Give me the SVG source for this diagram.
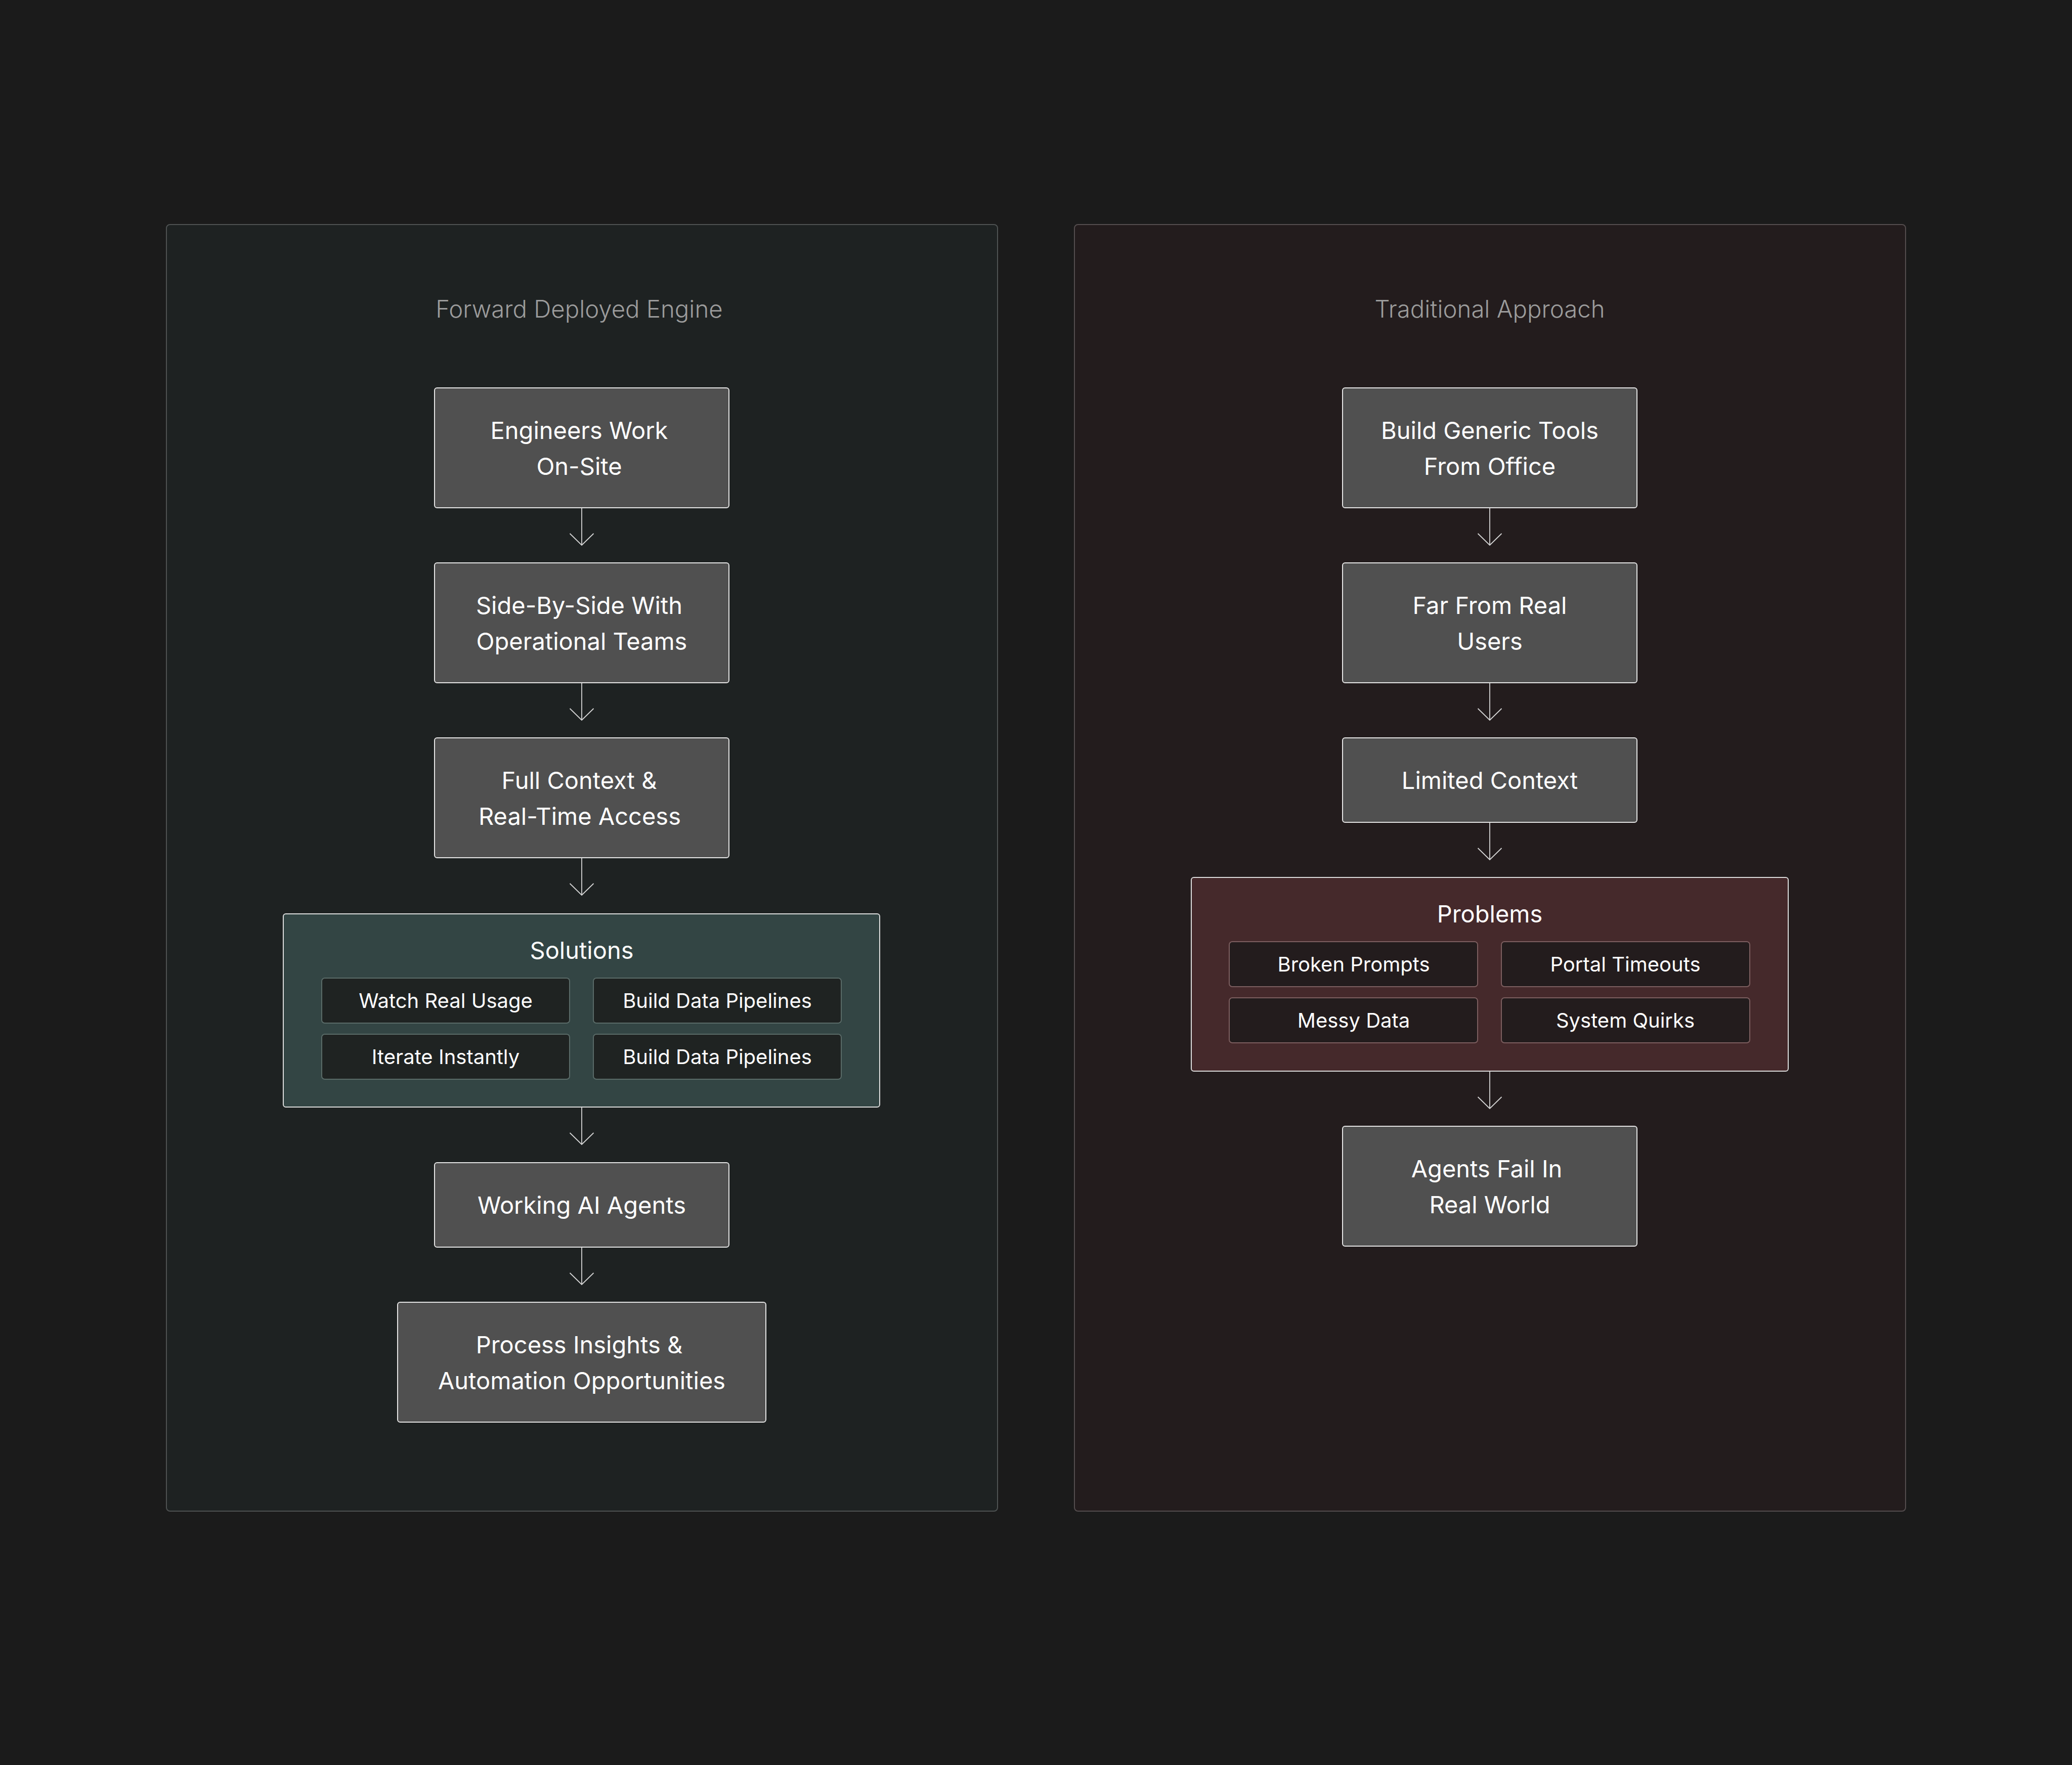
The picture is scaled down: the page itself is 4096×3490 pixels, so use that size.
<svg xmlns="http://www.w3.org/2000/svg" width="4096" height="3490" viewBox="0 0 4096 3490">
<defs>
<style>
.bg{fill:#1b1b1b}
.pl{fill:#1e2222;stroke:#4e5252;stroke-width:2}
.pr{fill:#231c1d;stroke:#544d4e;stroke-width:2}
.ptitle{font-family:Inter,"Liberation Sans",sans-serif;font-size:47.3px;font-weight:300;fill:#9c9c9c;text-anchor:middle}
.node{fill:#505050;stroke:#e4e4e4;stroke-width:2}
.t{font-family:Inter,"Liberation Sans",sans-serif;font-size:47px;font-weight:400;fill:#ffffff;text-anchor:middle}
.sol{fill:#334544;stroke:#dcdcdc;stroke-width:2}
.solsub{fill:#1f2322;stroke:#5a6b68;stroke-width:2}
.prob{fill:#45292b;stroke:#dcdcdc;stroke-width:2}
.probsub{fill:#231c1d;stroke:#7c5e5f;stroke-width:2}
.st{font-family:Inter,"Liberation Sans",sans-serif;font-size:40px;font-weight:400;fill:#ffffff;text-anchor:middle}
.edge{stroke:#d6d6d6;stroke-width:1.8;fill:none}
</style>
<marker id="arr" markerUnits="userSpaceOnUse" markerWidth="60" markerHeight="60" viewBox="-30 -30 60 60" refX="0" refY="0" orient="auto" overflow="visible">
<path d="M-23,-23.5 L0,0 L-23,23.5" fill="none" stroke="#d6d6d6" stroke-width="1.8"/>
</marker>
</defs>
<rect class="bg" x="0" y="0" width="4096" height="3490"/>

<g id="panel-left">
<rect class="pl" x="329" y="444" width="1643" height="2544" rx="7"/>
<text class="ptitle" x="1145" y="628">Forward Deployed Engine</text>
</g>
<g id="panel-right">
<rect class="pr" x="2124" y="444" width="1643" height="2544" rx="7"/>
<text class="ptitle" x="2945" y="628">Traditional Approach</text>
</g>

<g id="connectors">
<line class="edge" x1="1150" y1="1004" x2="1150" y2="1078" marker-end="url(#arr)"/>
<line class="edge" x1="1150" y1="1350" x2="1150" y2="1424" marker-end="url(#arr)"/>
<line class="edge" x1="1150" y1="1696" x2="1150" y2="1770" marker-end="url(#arr)"/>
<line class="edge" x1="1150" y1="2189" x2="1150" y2="2263" marker-end="url(#arr)"/>
<line class="edge" x1="1150" y1="2466" x2="1150" y2="2540" marker-end="url(#arr)"/>
<line class="edge" x1="2945" y1="1004" x2="2945" y2="1078" marker-end="url(#arr)"/>
<line class="edge" x1="2945" y1="1350" x2="2945" y2="1424" marker-end="url(#arr)"/>
<line class="edge" x1="2945" y1="1626" x2="2945" y2="1700" marker-end="url(#arr)"/>
<line class="edge" x1="2945" y1="2118" x2="2945" y2="2192" marker-end="url(#arr)"/>
</g>

<g id="engineers-onsite">
<rect class="node" x="859" y="767" width="582" height="237" rx="5"/>
<text class="t" x="1145" y="868">Engineers Work</text>
<text class="t" x="1145" y="939">On-Site</text>
</g>
<g id="side-by-side">
<rect class="node" x="859" y="1113" width="582" height="237" rx="5"/>
<text class="t" x="1145" y="1214">Side-By-Side With</text>
<text class="t" x="1150" y="1285">Operational Teams</text>
</g>
<g id="full-context">
<rect class="node" x="859" y="1459" width="582" height="237" rx="5"/>
<text class="t" x="1145" y="1560">Full Context &amp;</text>
<text class="t" x="1146" y="1631">Real-Time Access</text>
</g>
<g id="solutions">
<rect class="sol" x="560" y="1807" width="1179" height="382" rx="5"/>
<text class="t" x="1150" y="1896">Solutions</text>
<rect class="solsub" x="636" y="1934" width="490" height="89" rx="6"/>
<text class="st" x="881" y="1993">Watch Real Usage</text>
<rect class="solsub" x="1173" y="1934" width="490" height="89" rx="6"/>
<text class="st" x="1418" y="1993">Build Data Pipelines</text>
<rect class="solsub" x="636" y="2045" width="490" height="89" rx="6"/>
<text class="st" x="881" y="2104">Iterate Instantly</text>
<rect class="solsub" x="1173" y="2045" width="490" height="89" rx="6"/>
<text class="st" x="1418" y="2104">Build Data Pipelines</text>
</g>
<g id="working-agents">
<rect class="node" x="859" y="2299" width="582" height="167" rx="5"/>
<text class="t" x="1150" y="2400">Working AI Agents</text>
</g>
<g id="process-insights">
<rect class="node" x="786" y="2575" width="728" height="237" rx="5"/>
<text class="t" x="1145" y="2676">Process Insights &amp;</text>
<text class="t" x="1150" y="2747">Automation Opportunities</text>
</g>

<g id="build-generic">
<rect class="node" x="2654" y="767" width="582" height="237" rx="5"/>
<text class="t" x="2945" y="868">Build Generic Tools</text>
<text class="t" x="2945" y="939">From Office</text>
</g>
<g id="far-from-users">
<rect class="node" x="2654" y="1113" width="582" height="237" rx="5"/>
<text class="t" x="2945" y="1214">Far From Real</text>
<text class="t" x="2945" y="1285">Users</text>
</g>
<g id="limited-context">
<rect class="node" x="2654" y="1459" width="582" height="167" rx="5"/>
<text class="t" x="2945" y="1560">Limited Context</text>
</g>
<g id="problems">
<rect class="prob" x="2355" y="1735" width="1180" height="383" rx="5"/>
<text class="t" x="2945" y="1824">Problems</text>
<rect class="probsub" x="2430" y="1862" width="491" height="89" rx="6"/>
<text class="st" x="2676" y="1921">Broken Prompts</text>
<rect class="probsub" x="2968" y="1862" width="491" height="89" rx="6"/>
<text class="st" x="3213" y="1921">Portal Timeouts</text>
<rect class="probsub" x="2430" y="1973" width="491" height="89" rx="6"/>
<text class="st" x="2676" y="2032">Messy Data</text>
<rect class="probsub" x="2968" y="1973" width="491" height="89" rx="6"/>
<text class="st" x="3213" y="2032">System Quirks</text>
</g>
<g id="agents-fail">
<rect class="node" x="2654" y="2227" width="582" height="237" rx="5"/>
<text class="t" x="2939" y="2328">Agents Fail In</text>
<text class="t" x="2945" y="2399">Real World</text>
</g>
</svg>
